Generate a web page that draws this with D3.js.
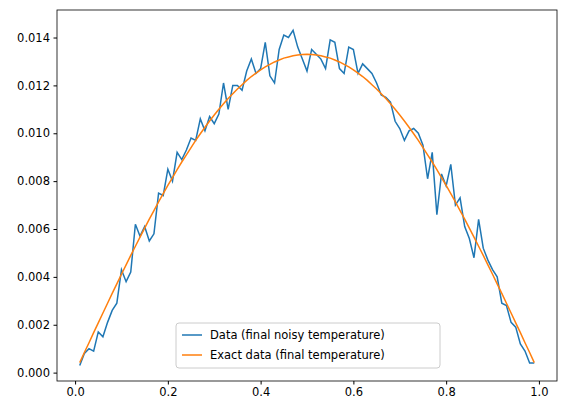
<!DOCTYPE html><html><head><script src="https://cdn.jsdelivr.net/npm/d3@7"></script>
<style>body{margin:0;background:#fff}text{font-family:"DejaVu Sans";}</style></head><body><svg id="c" width="565" height="413"></svg>
<script>
const xs=d3.range(1,100).map(k=>k/100);
const noisy=[.0003,.0008,.0010,.0009,.0017,.0015,.0021,.0026,.0029,.0043,.0038,.0042,.0062,.0057,.0061,.0055,.0058,.0075,.0074,.0085,.0080,.0092,.0089,.0093,.0098,.0097,.0106,.0101,.0107,.0104,
.0108,.0121,.0110,.0120,.0120,.0118,.0126,.0131,.0125,.0127,.0138,.0124,.0121,.0135,.0141,.0140,.0143,.0136,.0131,.0126,.0135,.0133,.0131,.0127,.0139,.0138,.0127,.0125,.0136,.0135,.0125,.0129,.0127,.0125,.0121,.0116,.0115,
.0113,.0105,.0102,.0097,.0101,.0102,.0100,.0095,.0081,.0092,.0066,.0083,.0078,.0087,.0070,.0073,.0061,.0056,.0048,.0064,.0052,.0047,.0043,.0040,.0029,.0028,.0021,.0019,.0012,.0009,.0004,.0004];
const half=[.00042,.00084,.00125,.00167,.00208,.00249,.00290,.00331,.00371,.00411,.00450,.00490,.00528,.00566,.00604,.00641,.00677,.00713,.00748,.00782,.00815,.00848,.00880,.00910,.00940,.00970,.00998,.01025,.01051,.01076,.01100,.01123,.01145,.01165,.01185,.01203,.01221,.01237,.01251,.01265,.01277,.01288,.01298,.01306,.01314,.01319,.01324,.01327,.01329,.01330];
const exact=half.concat(half.slice(0,49).reverse());
const xTicks=[0,0.2,0.4,0.6,0.8,1.0];
const yTicks=[0,.002,.004,.006,.008,.010,.012,.014];
const svg=d3.select("#c");
const L=57,R=557,T=10,B=381;
const x=d3.scaleLinear().domain([-0.039,1.039]).range([L,R]);
const y=d3.scaleLinear().domain([-0.00035,0.01515]).range([B,T]);
svg.append("g").attr("transform",`translate(0,${B})`).call(d3.axisBottom(x).tickValues(xTicks).tickFormat(d3.format(".1f")).tickSize(3.5).tickPadding(3.5));
svg.append("g").attr("transform",`translate(${L},0)`).call(d3.axisLeft(y).tickValues(yTicks).tickFormat(d3.format(".3f")).tickSize(3.5).tickPadding(3.5));
svg.selectAll(".domain").remove();
svg.selectAll(".tick text").attr("font-size",11.5).attr("fill","#000");
svg.selectAll(".tick line").attr("stroke","#000");
const line=d3.line().x((d,i)=>x(xs[i])).y(d=>y(d));
svg.append("path").datum(noisy).attr("d",line).attr("fill","none").attr("stroke","#1f77b4").attr("stroke-width",1.5);
svg.append("path").datum(exact).attr("d",line).attr("fill","none").attr("stroke","#ff7f0e").attr("stroke-width",1.5);
svg.append("rect").attr("x",L).attr("y",T).attr("width",R-L).attr("height",B-T).attr("fill","none").attr("stroke","#000").attr("stroke-width",0.8);
const lg=svg.append("g").attr("transform","translate(176,323)");
lg.append("rect").attr("width",264).attr("height",45).attr("rx",3).attr("fill","#fff").attr("fill-opacity",0.8).attr("stroke","#ccc");
[["Data (final noisy temperature)","#1f77b4"],["Exact data (final temperature)","#ff7f0e"]].forEach((e,i)=>{
 lg.append("line").attr("x1",6).attr("x2",26).attr("y1",12+i*20).attr("y2",12+i*20).attr("stroke",e[1]).attr("stroke-width",1.5);
 lg.append("text").attr("x",34).attr("y",16+i*20).attr("font-size",11.5).text(e[0]);
});
</script></body></html>
